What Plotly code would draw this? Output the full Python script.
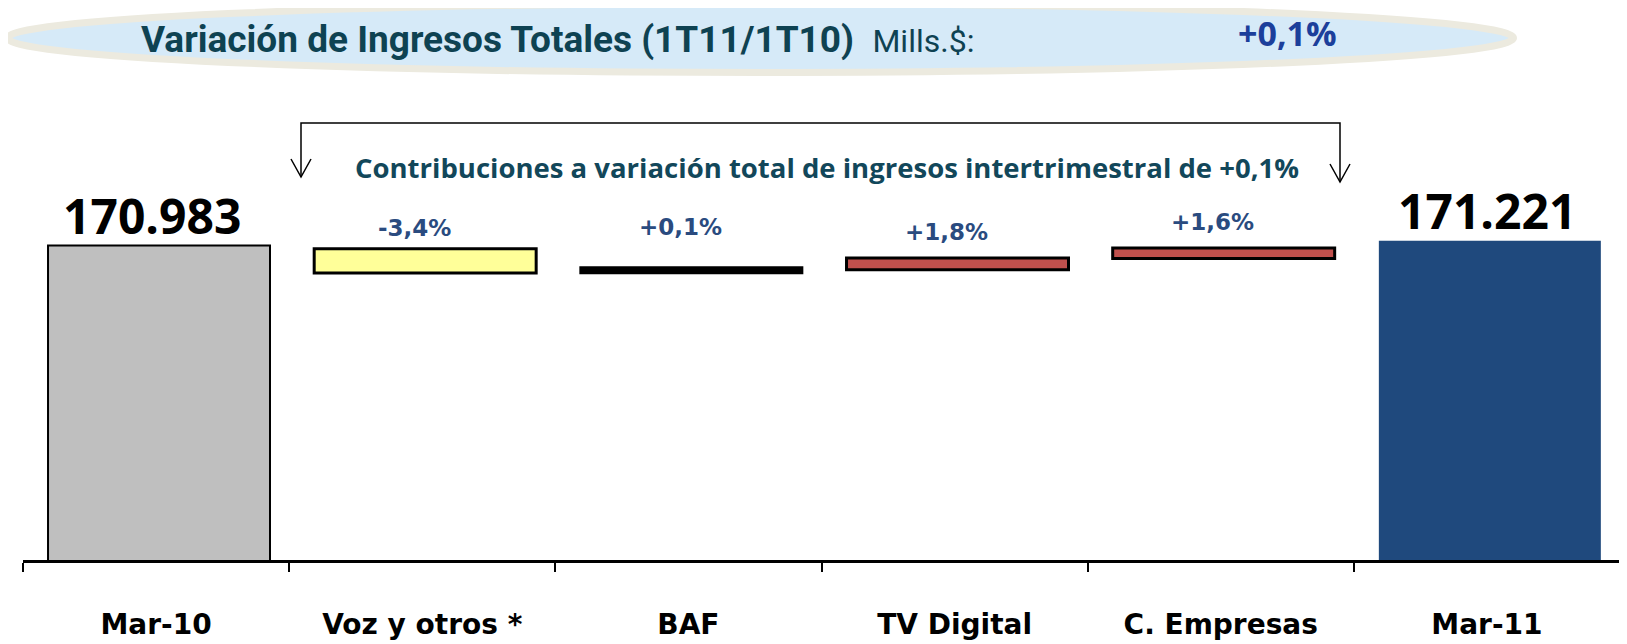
import plotly.graph_objects as go

# ---------------- data ----------------
categories = ["Mar-10", "Voz y otros *", "BAF", "TV Digital", "C. Empresas", "Mar-11"]
start_total = 170983          # Mar-10, Mills.$
end_total = 171221            # Mar-11, Mills.$
start_label = "170.983"
end_label = "171.221"
contrib_labels = ["-3,4%", "+0,1%", "+1,8%", "+1,6%"]
# floating contribution bars as drawn on the (schematic) value axis, Mills.$
contrib_low = [169675, 169670, 169837, 170375]
contrib_high = [170837, 169956, 170389, 170865]
total_variation = "+0,1%"
y_range = [156000, 178400]

# ---------------- layout helpers ----------------
PAGE_OFF = 8                      # default body margin of the html page
W, H = 1627 - PAGE_OFF, 644 - PAGE_OFF
ML, MR, MT, MB = 23 - PAGE_OFF, 7, 90 - PAGE_OFF, 84
PW, PH = W - ML - MR, H - MT - MB


def px_x(px):  # page pixel -> paper
    return (px - PAGE_OFF - ML) / PW


def px_y(py):
    return (H - MB - (py - PAGE_OFF)) / PH


bar_colors = ["#BFBFBF", "#FFFF99", "#000000", "#C0504D", "#C0504D", "#1F497D"]
line_widths = [2, 3, 2, 3, 3, 0]
label_yshift = [21, 40, 26, 26]

bases = [0] + contrib_low + [0]
heights = [start_total] + [h - l for h, l in zip(contrib_high, contrib_low)] + [end_total]

fig = go.Figure()
fig.add_trace(go.Bar(
    x=categories, y=heights, base=bases,
    width=0.834, offset=-0.406,
    marker=dict(color=bar_colors, line=dict(color="#000000", width=line_widths)),
    hoverinfo="skip", showlegend=False,
))

ann = []
# totals labels
for cat, val, txt, xs in [(categories[0], start_total, start_label, -4), (categories[-1], end_total, end_label, 0)]:
    ann.append(dict(x=cat, y=val, xref="x", yref="y", text=f"<b>{txt}</b>", showarrow=False,
                    yanchor="middle", yshift=30, xshift=xs,
                    font=dict(family="Open Sans", size=48, color="#000000")))
# contribution labels
for i, txt in enumerate(contrib_labels):
    ann.append(dict(x=categories[i + 1], y=contrib_high[i], xref="x", yref="y",
                    text=f"<b>{txt}</b>", showarrow=False, yanchor="middle",
                    yshift=label_yshift[i], xshift=-8,
                    font=dict(family="DejaVu Sans", size=23, color="#2A4B7F")))
# title
ann.append(dict(x=px_x(139), y=px_y(39.5), xref="paper", yref="paper", xanchor="left", yanchor="middle",
                text="<b>Variación de Ingresos Totales (1T11/1T10)</b>&nbsp;&nbsp;<span style='font-size:32px'>Mills.$:</span>",
                showarrow=False,
                font=dict(family="Roboto", size=37, color="#0E4252")))
ann.append(dict(x=px_x(1287), y=px_y(33), xref="paper", yref="paper", xanchor="center", yanchor="middle",
                text=f"<b>{total_variation}</b>", showarrow=False,
                font=dict(family="Open Sans", size=34, color="#1C3F9B")))
ann.append(dict(x=px_x(827), y=px_y(167), xref="paper", yref="paper", xanchor="center", yanchor="middle",
                text=f"<b>Contribuciones a variación total de ingresos intertrimestral de {total_variation}</b>",
                showarrow=False, font=dict(family="Open Sans", size=27.5, color="#12475A")))

shapes = [
    dict(type="circle", xref="paper", yref="paper", layer="below",
         x0=px_x(7.5), x1=px_x(1513.5), y0=px_y(72.5), y1=px_y(3.5),
         fillcolor="#D6EAF8", line=dict(color="#ECEADF", width=7)),
    dict(type="path", xref="paper", yref="paper",
         path=f"M {px_x(301)},{px_y(177)} L {px_x(301)},{px_y(123)} L {px_x(1340)},{px_y(123)} L {px_x(1340)},{px_y(182)}",
         line=dict(color="#000000", width=1.5)),
    dict(type="path", xref="paper", yref="paper",
         path=f"M {px_x(291)},{px_y(159)} L {px_x(301)},{px_y(177)} L {px_x(311)},{px_y(159)}",
         line=dict(color="#000000", width=1.5)),
    dict(type="path", xref="paper", yref="paper",
         path=f"M {px_x(1330)},{px_y(164)} L {px_x(1340)},{px_y(182)} L {px_x(1350)},{px_y(164)}",
         line=dict(color="#000000", width=1.5)),
]

fig.update_layout(
    width=W, height=H, margin=dict(l=ML, r=MR, t=MT, b=MB, autoexpand=False),
    paper_bgcolor="white", plot_bgcolor="white",
    annotations=ann, shapes=shapes,
    xaxis=dict(type="category", showline=True, linecolor="#000000", linewidth=3,
               ticks="outside", tickson="boundaries", ticklen=9, tickwidth=2, tickcolor="#000000",
               showgrid=False, zeroline=False, ticklabelstandoff=37, automargin=False,
               tickfont=dict(family="DejaVu Sans", size=28, color="#000000", weight="bold")),
    yaxis=dict(range=y_range, visible=False, showgrid=False, zeroline=False),
)

fig.write_html("out.html")
